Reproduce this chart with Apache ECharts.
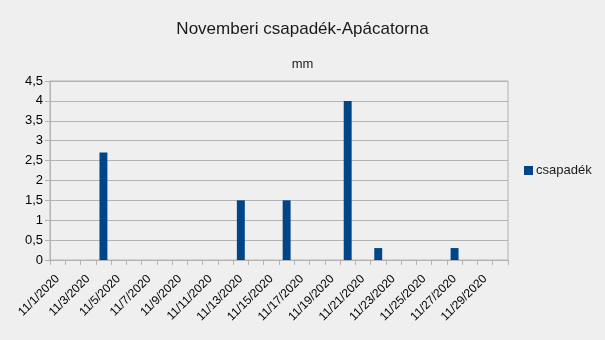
<!DOCTYPE html>
<html><head><meta charset="utf-8">
<script src="https://cdn.jsdelivr.net/npm/echarts@6/dist/echarts.min.js"></script>
<style>html,body{margin:0;padding:0;background:#efefef}#c{width:605px;height:340px}</style>
</head><body><div id="c"></div>
<script>
const categories = [];
for (let d = 1; d <= 30; d++) categories.push('11/' + d + '/2020');
const values = [null,null,null,2.7,null,null,null,null,null,null,null,null,1.5,null,null,1.5,null,null,null,4,null,0.3,null,null,null,null,0.3,null,null,null];
const seriesName = 'csapadék';
const titleText = 'Novemberi csapadék-Apácatorna';
const subtitleText = 'mm';

const chart = echarts.init(document.getElementById('c'), null, {renderer:'canvas'});
const font = 'Liberation Sans';
chart.setOption({
  backgroundColor: '#efefef',
  animation: false,
  title: [
    {text: titleText, left: 'center', top: 16, textStyle: {fontFamily: font, fontSize: 17, fontWeight: 'normal', color: '#1a1a1a'}},
    {text: subtitleText, left: 'center', top: 53, textStyle: {fontFamily: font, fontSize: 13, fontWeight: 'normal', color: '#1a1a1a'}}
  ],
  legend: {
    orient: 'vertical', left: 524, top: 164, itemWidth: 9, itemHeight: 9, itemGap: 4, padding: 0,
    icon: 'rect',
    textStyle: {fontFamily: font, fontSize: 13, color: '#1a1a1a', padding: [0,0,0,-2]},
    data: [seriesName]
  },
  grid: {left: 50, right: 97, top: 81, bottom: 80, containLabel: false, show: true, borderColor: '#b3b3b3', borderWidth: 1},
  xAxis: {
    type: 'category', data: categories, boundaryGap: true,
    axisLine: {lineStyle: {color: '#b3b3b3'}},
    axisTick: {show: true, interval: 0, length: 5, lineStyle: {color: '#b3b3b3'}},
    axisLabel: {interval: 1, rotate: 45, fontFamily: font, fontSize: 12, color: '#000', margin: 17}
  },
  yAxis: {
    type: 'value', min: 0, max: 4.5, interval: 0.5,
    axisLine: {show: true, lineStyle: {color: '#b3b3b3'}},
    axisTick: {show: true, length: 5, lineStyle: {color: '#b3b3b3'}},
    splitLine: {lineStyle: {color: '#b3b3b3'}},
    axisLabel: {fontFamily: font, fontSize: 13, color: '#000', margin: 7, formatter: v => String(v).replace('.', ',')}
  },
  series: [{
    name: seriesName, type: 'bar', data: values, barWidth: '52%',
    itemStyle: {color: '#004586'}
  }]
});
</script></body></html>
